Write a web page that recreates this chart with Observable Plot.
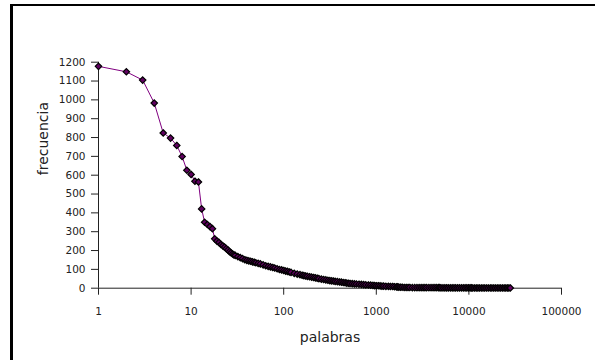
<!DOCTYPE html>
<html>
<head>
<meta charset="utf-8">
<script src="https://cdn.jsdelivr.net/npm/d3@7"></script>
<script src="https://cdn.jsdelivr.net/npm/@observablehq/plot@0.6"></script>
<style>
  html, body { margin: 0; padding: 0; background: #fff; overflow: hidden; }
  #wrap { position: relative; width: 595px; height: 360px; }
  #frame { position: absolute; left: 10px; top: 4px; width: 700px; height: 500px;
           border-left: 3px solid #000; border-top: 2px solid #000; box-sizing: border-box; }
  #chart { position: absolute; left: 0; top: 0; }
  svg text { font-family: "DejaVu Sans", sans-serif; }
</style>
</head>
<body>
<div id="wrap"><div id="frame"></div><div id="chart"></div></div>
<script>
// rank of word (palabras) and its frequency (frecuencia)
const ranks = [1,2,3,4,5,6,7,8,9,10,11,12,13,14,15,16,17,18,19,20,21,22,23,24,25,26,27,28,29,30,
  32,34,36,38,40,42,44,46,48,50,53,56,60,64,68,72,76,80,85,90,95,100,105,110,115,120,130,140,150,158,165,
  172,180,190,200,210,220,230,240,255,270,285,300,315,330,345,360,380,400,420,440,460,480,500,520,550,
  580,610,650,690,730,770,820,870,920,960,1000,1050,1100,1150,1200,1270,1350,1420,1500,1570,1650,1700,
  1750,1820,1900,2000,2100,2200,2300,2450,2600,2750,2900,3050,3200,3350,3500,3700,3900,4100,4300,4500,
  4700,4850,5000,5250,5500,5750,6000,6300,6600,6900,7200,7550,7900,8300,8700,9100,9500,9900,10300,
  10650,11000,11500,12000,12500,13000,13600,14200,14800,15500,16200,17000,17700,18500,19300,20200,
  21100,22000,23000,24000,25000,26000,27000,28000];
const freqs = [1178,1149,1105,983,824,797,758,699,626,604,568,564,421,350,338,327,316,262,250,243,232,225,218,210,203,194,188,182,177,174,
  168,162,157,151,148,145,143,140,138,135,132,129,124,119,116,113,110,107,103,99,97,94,91,89,86,84,79,75,72,69,67,
  65,63,61,59,57,55,53,51,48,46,44,42,40,39,38,36,35,33,32,30,29,27,26,25,24,23,
  22,21,20,19,18,17,16,15,14,13,13,12,11,11,10,10,9,9,8,7,7,6,
  5,5,4,4,4,4,3,3,3,3,3,3,3,3,3,3,3,3,3,3,
  3,2,2,2,2,2,2,2,2,2,2,2,2,2,2,2,2,2,2,
  1,1,1,1,1,1,1,1,1,1,1,1,1,1,1,1,
  1,1,1,1,1,1,1,1];
const xTicks = [1,10,100,1000,10000,100000];
const yTicks = [0,100,200,300,400,500,600,700,800,900,1000,1100,1200];
const xLabel = "palabras";
const yLabel = "frecuencia";

const data = ranks.map((r, i) => ({rank: r, freq: freqs[i]}));

const chart = Plot.plot({
  width: 595,
  height: 360,
  marginLeft: 98,
  marginRight: 34,
  marginTop: 61.7,
  marginBottom: 72.3,
  style: {fontFamily: "DejaVu Sans, sans-serif", background: "transparent", overflow: "visible"},
  x: {type: "log", domain: [1, 100000]},
  y: {domain: [0, 1200]},
  marks: [
    Plot.axisX({ticks: xTicks, tickFormat: d => String(d), tickSize: 7, tickPadding: 12,
      fontSize: 10.5, color: "#222", label: null}),
    Plot.axisY({ticks: yTicks, tickFormat: d => String(d), tickSize: 7, tickPadding: 6,
      fontSize: 10.5, color: "#222", label: null}),
    Plot.ruleY([0], {stroke: "#222", strokeWidth: 1}),
    Plot.ruleX([1], {y1: 0, y2: 1200, stroke: "#222", strokeWidth: 1}),
    Plot.line(data, {x: "rank", y: "freq", stroke: "#800080", strokeWidth: 1}),
    Plot.dot(data, {x: "rank", y: "freq", symbol: "diamond2", r: 2.9, fill: "#600060", stroke: "#000", strokeWidth: 1.2}),
    Plot.text([xLabel], {frameAnchor: "bottom", dy: 54, fontSize: 14, fill: "#222", text: d => d, lineAnchor: "bottom"}),
    Plot.text([yLabel], {frameAnchor: "left", dx: -51, fontSize: 14, fill: "#222", text: d => d, rotate: -90, lineAnchor: "bottom"})
  ]
});
document.getElementById("chart").appendChild(chart);
</script>
</body>
</html>
